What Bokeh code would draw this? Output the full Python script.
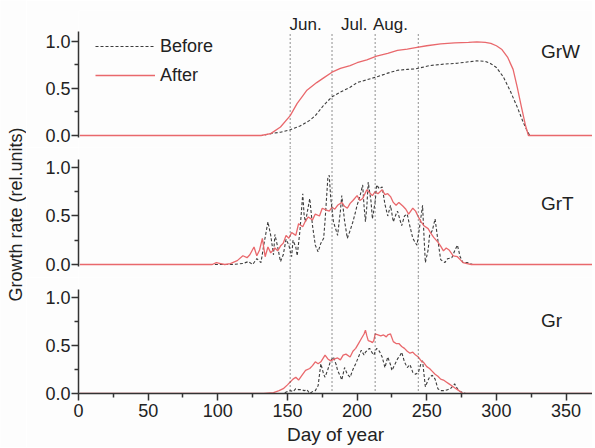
from bokeh.plotting import figure
from bokeh.layouts import column, row
from bokeh.models import Range1d, Span, Label, Legend, LegendItem, FixedTicker, NumeralTickFormatter
from bokeh.embed import file_html
from bokeh.resources import INLINE
import math

# ---------------- data ----------------
month_days = [152, 182, 213, 244]
month_names = ["Jun.", "Jul.", "Aug."]
panel_names = ["GrW", "GrT", "Gr"]
x_ticks = [0, 50, 100, 150, 200, 250, 300, 350]
y_ticks = [0.0, 0.5, 1.0]

grw_before_day = [1, 132, 138, 145, 152, 159, 166, 170, 176, 182, 188, 195, 200, 207, 214, 222, 229, 236, 242,
                  252, 262, 272, 280, 286, 292, 296, 300, 305, 310, 315, 319, 322, 324, 369]
grw_before = [0, 0, 0.02, 0.035, 0.06, 0.10, 0.16, 0.21, 0.32, 0.41, 0.46, 0.51, 0.56, 0.59, 0.62, 0.66, 0.69, 0.70, 0.705,
              0.74, 0.755, 0.765, 0.78, 0.79, 0.785, 0.76, 0.72, 0.62, 0.47, 0.30, 0.15, 0.05, 0, 0]

grw_after_day = [1, 131, 138, 145, 152, 157, 161, 164, 171, 176, 182, 188, 195, 200, 207, 214, 222, 229, 236, 242,
                 250, 260, 270, 280, 286, 292, 296, 300, 304, 308, 312, 315, 318, 321, 323, 369]
grw_after = [0, 0, 0.02, 0.09, 0.21, 0.34, 0.42, 0.48, 0.56, 0.61, 0.67, 0.71, 0.74, 0.77, 0.80, 0.84, 0.87, 0.90, 0.915, 0.93,
             0.95, 0.97, 0.98, 0.985, 0.99, 0.985, 0.975, 0.95, 0.91, 0.83, 0.70, 0.51, 0.30, 0.10, 0, 0]

grt_before_day = [1, 100, 110, 118, 122, 125, 128, 131, 133, 136, 138, 140, 141, 143, 145, 147, 149, 151, 153, 154,
                  156, 157, 159, 161, 162, 163, 165, 166, 168, 170, 172, 174, 176, 177, 179, 180, 181, 183, 185, 186,
                  188, 189, 191, 193, 195, 197, 199, 200, 202, 204, 205, 206, 207, 208, 210, 211, 213, 214, 216, 218,
                  220, 222, 224, 226, 228, 229, 231, 232, 234, 236, 237, 239, 240, 242, 243, 245, 247, 248, 249, 251,
                  252, 254, 256, 258, 260, 262, 263, 265, 268, 270, 272, 274, 276, 279, 283, 369]
grt_before = [0, 0, 0, 0.01, 0.03, 0, 0.06, 0.02, 0.20, 0.44, 0.30, 0.10, 0.31, 0.18, 0.03, 0.10, 0.26, 0.20, 0.08, 0.25,
              0.18, 0.09, 0.35, 0.73, 0.50, 0.44, 0.60, 0.68, 0.40, 0.20, 0.13, 0.22, 0.27, 0.45, 0.89, 0.92, 0.70, 0.44, 0.35, 0.30,
              0.55, 0.71, 0.45, 0.27, 0.35, 0.44, 0.55, 0.61, 0.70, 0.82, 0.60, 0.44, 0.60, 0.85, 0.65, 0.47, 0.65, 0.82, 0.78, 0.80,
              0.62, 0.50, 0.61, 0.44, 0.52, 0.55, 0.45, 0.40, 0.50, 0.52, 0.45, 0.33, 0.27, 0.22, 0.20, 0.40, 0.61, 0.30, 0.02, 0.15,
              0.30, 0.35, 0.47, 0.25, 0.05, 0.03, 0.02, 0.06, 0.07, 0.14, 0.20, 0.08, 0.02, 0.02, 0, 0]

grt_after_day = [1, 96, 99, 102, 105, 109, 114, 118, 121, 123, 126, 128, 130, 132, 134, 136, 138, 141, 143, 145,
                 147, 149, 151, 153, 156, 158, 161, 163, 165, 168, 170, 173, 175, 178, 180, 182, 184, 186, 189, 191,
                 193, 195, 197, 200, 202, 204, 207, 209, 211, 213, 215, 218, 220, 222, 224, 226, 228, 230, 233, 235,
                 237, 240, 242, 244, 246, 248, 251, 253, 255, 258, 260, 262, 264, 266, 269, 272, 274, 276, 279, 282, 369]
grt_after = [0, 0, 0.02, 0.01, 0, 0.01, 0.04, 0.09, 0.07, 0.10, 0.18, 0.09, 0.15, 0.27, 0.08, 0.18, 0.12, 0.17, 0.14, 0.19,
             0.22, 0.30, 0.27, 0.33, 0.30, 0.42, 0.39, 0.45, 0.49, 0.46, 0.52, 0.50, 0.58, 0.56, 0.55, 0.59, 0.57, 0.61, 0.64, 0.60,
             0.58, 0.63, 0.66, 0.71, 0.66, 0.68, 0.77, 0.74, 0.71, 0.75, 0.73, 0.77, 0.72, 0.73, 0.70, 0.64, 0.61, 0.64, 0.60, 0.57,
             0.52, 0.58, 0.55, 0.49, 0.44, 0.40, 0.37, 0.32, 0.28, 0.23, 0.19, 0.14, 0.17, 0.15, 0.09, 0.08, 0.05, 0.02, 0.01, 0, 0]

gr_before_day = [1, 147, 150, 152, 154, 156, 158, 160, 162, 164, 166, 168, 170, 172, 174, 176, 177, 179, 181, 183,
                 185, 186, 188, 189, 191, 193, 195, 197, 199, 201, 203, 205, 206, 208, 209, 211, 212, 214, 216, 218,
                 220, 222, 224, 225, 227, 229, 231, 232, 234, 236, 238, 240, 242, 244, 246, 247, 249, 251, 252, 254,
                 256, 258, 260, 263, 265, 267, 269, 270, 272, 274, 276, 278, 369]
gr_before = [0, 0, 0.02, 0.03, 0.02, 0.05, 0.04, 0.04, 0.03, 0.04, 0, 0.02, 0.03, 0.08, 0.31, 0.20, 0.17, 0.25, 0.34, 0.38,
             0.30, 0.24, 0.18, 0.14, 0.27, 0.20, 0.17, 0.25, 0.31, 0.38, 0.45, 0.40, 0.43, 0.46, 0.47, 0.42, 0.40, 0.47, 0.44, 0.38,
             0.27, 0.38, 0.30, 0.24, 0.30, 0.36, 0.40, 0.43, 0.33, 0.27, 0.30, 0.22, 0.20, 0.22, 0.32, 0.34, 0.07, 0.14, 0.17, 0.19,
             0.15, 0.05, 0.03, 0.03, 0.04, 0.05, 0.08, 0.10, 0.05, 0.02, 0.01, 0, 0]

gr_after_day = [1, 133, 140, 144, 147, 150, 152, 154, 156, 158, 160, 163, 166, 168, 170, 172, 174, 177, 179, 181,
                184, 186, 188, 190, 192, 195, 197, 199, 201, 203, 205, 206, 207, 208, 210, 211, 212, 213, 215, 217,
                219, 221, 222, 224, 226, 228, 230, 232, 234, 236, 238, 240, 242, 244, 246, 248, 250, 252, 254, 256,
                258, 260, 262, 264, 266, 268, 270, 272, 274, 276, 369]
gr_after = [0, 0, 0.01, 0.03, 0.05, 0.09, 0.12, 0.15, 0.17, 0.14, 0.18, 0.24, 0.26, 0.29, 0.33, 0.31, 0.33, 0.40, 0.36, 0.34,
            0.36, 0.37, 0.35, 0.40, 0.41, 0.38, 0.44, 0.47, 0.52, 0.57, 0.62, 0.66, 0.60, 0.55, 0.54, 0.53, 0.55, 0.62, 0.61, 0.60,
            0.61, 0.59, 0.61, 0.62, 0.54, 0.52, 0.52, 0.49, 0.47, 0.44, 0.42, 0.43, 0.40, 0.38, 0.34, 0.32, 0.28, 0.26, 0.23, 0.20,
            0.18, 0.15, 0.14, 0.12, 0.10, 0.08, 0.06, 0.04, 0.02, 0, 0]

# ---------------- styling ----------------
FONT = "Liberation Sans"
RED = "#e9686c"
DARK = "#333333"
GREY = "#3c3c3c"
TXT = "#222222"
BG = "#fdfdfd"
LABEL_W = 26
xr = Range1d(0, 369)

def panel(y0, y1, frame_h, top, bottom, bounds, with_x=False):
    p = figure(frame_width=514, frame_height=frame_h, x_range=xr, y_range=Range1d(y0, y1),
               output_backend="svg", toolbar_location=None,
               x_axis_location="below" if with_x else None,
               min_border_left=78 - LABEL_W, min_border_right=0, min_border_top=top, min_border_bottom=bottom)
    p.grid.visible = False
    p.outline_line_color = None
    p.background_fill_color = BG
    p.border_fill_color = BG
    ya = p.yaxis[0]
    ya.ticker = FixedTicker(ticks=y_ticks, minor_ticks=[0.25, 0.75])
    ya.formatter = NumeralTickFormatter(format="0.0")
    ya.bounds = bounds
    ya.major_tick_out = 7
    ya.major_tick_in = 0
    ya.minor_tick_out = 4
    ya.minor_tick_in = 0
    ya.major_label_standoff = 1
    ya.axis_line_color = DARK
    ya.axis_line_width = 1.5
    ya.major_tick_line_color = DARK
    ya.major_tick_line_width = 1.5
    ya.minor_tick_line_color = DARK
    ya.minor_tick_line_width = 1.5
    ya.major_label_text_font = FONT
    ya.major_label_text_font_size = "18px"
    ya.major_label_text_color = TXT
    return p

top = panel(-0.127, 1.323, 137, 10, 0, (-0.02, 1.1))
mid = panel(-0.134, 1.206, 130, 0, 0, (-0.02, 1.08))
bot = panel(0, 1.208, 116, 0, 54, (0, 1.08), with_x=True)

# month boundaries: full height in lower panels, below the month names in the top one
top.segment(x0=month_days, y0=[top.y_range.start] * len(month_days), x1=month_days,
            y1=[1.09] * len(month_days), line_color="#555555", line_dash="1 3", line_width=1.3)
for p in (mid, bot):
    for d in month_days:
        p.add_layout(Span(location=d, dimension="height", line_color="#555555",
                          line_dash="1 3", line_width=1.3))

series = [(top, grw_before_day, grw_before, grw_after_day, grw_after),
          (mid, grt_before_day, grt_before, grt_after_day, grt_after),
          (bot, gr_before_day, gr_before, gr_after_day, gr_after)]
renderers = []
for p, bd, bv, ad, av in series:
    rb = p.line(bd, bv, line_color=GREY, line_dash="3 2", line_width=1.1)
    ra = p.line(ad, av, line_color=RED, line_width=1.3)
    renderers.append((rb, ra))

# panel names
for p, name, yv in zip([top, mid, bot], panel_names, [0.89, 0.63, 0.76]):
    p.add_layout(Label(x=332, y=yv, text=name, text_font=FONT, text_font_size="19px",
                       text_baseline="middle", text_align="left", text_color=TXT))

# month names above the month boundaries
for name, xv in zip(month_names, [163, 198, 224]):
    top.add_layout(Label(x=xv, y=1.175, text=name, text_font=FONT, text_font_size="17px",
                         text_baseline="middle", text_align="center", text_color=TXT))

# legend
leg = Legend(items=[LegendItem(label="Before", renderers=[renderers[0][0]]),
                    LegendItem(label="After", renderers=[renderers[0][1]])],
             location=(17, 61), glyph_width=60, glyph_height=22, label_height=22, spacing=7,
             padding=0, margin=0, border_line_color=None, background_fill_alpha=0,
             label_text_font=FONT, label_text_font_size="18px", label_standoff=5,
             label_text_color=TXT)
top.add_layout(leg)

# x axis on bottom panel
xa = bot.xaxis[0]
xa.ticker = FixedTicker(ticks=x_ticks, minor_ticks=[25, 75, 125, 175, 225, 275, 325])
xa.major_tick_out = 7
xa.major_tick_in = 0
xa.minor_tick_out = 4
xa.minor_tick_in = 0
xa.major_label_standoff = 3
xa.axis_line_color = DARK
xa.axis_line_width = 1.5
xa.major_tick_line_color = DARK
xa.major_tick_line_width = 1.5
xa.minor_tick_line_color = DARK
xa.minor_tick_line_width = 1.5
xa.major_label_text_font = FONT
xa.major_label_text_font_size = "18px"
xa.major_label_text_color = TXT
xa.axis_label = "Day of year"
xa.axis_label_text_font = FONT
xa.axis_label_text_font_size = "19px"
xa.axis_label_text_font_style = "normal"
xa.axis_label_standoff = 4
xa.axis_label_text_color = TXT

# shared y label in its own narrow strip spanning all three panels
total_h = 10 + 137 + 130 + 116 + 54
lab = figure(width=LABEL_W, height=total_h, x_range=Range1d(0, LABEL_W), y_range=Range1d(0, total_h),
             output_backend="svg", toolbar_location=None, x_axis_location=None, y_axis_location=None,
             min_border=0)
lab.grid.visible = False
lab.outline_line_color = None
lab.background_fill_color = BG
lab.border_fill_color = BG
lab.add_layout(Label(x=15, y=total_h - 214, text="Growth rate (rel.units)", angle=math.pi / 2,
                     text_font=FONT, text_font_size="18px", text_align="center",
                     text_baseline="middle", text_color=TXT))

layout = row(lab, column(top, mid, bot, spacing=0), spacing=0)
open("out.html", "w").write(file_html(layout, INLINE))
